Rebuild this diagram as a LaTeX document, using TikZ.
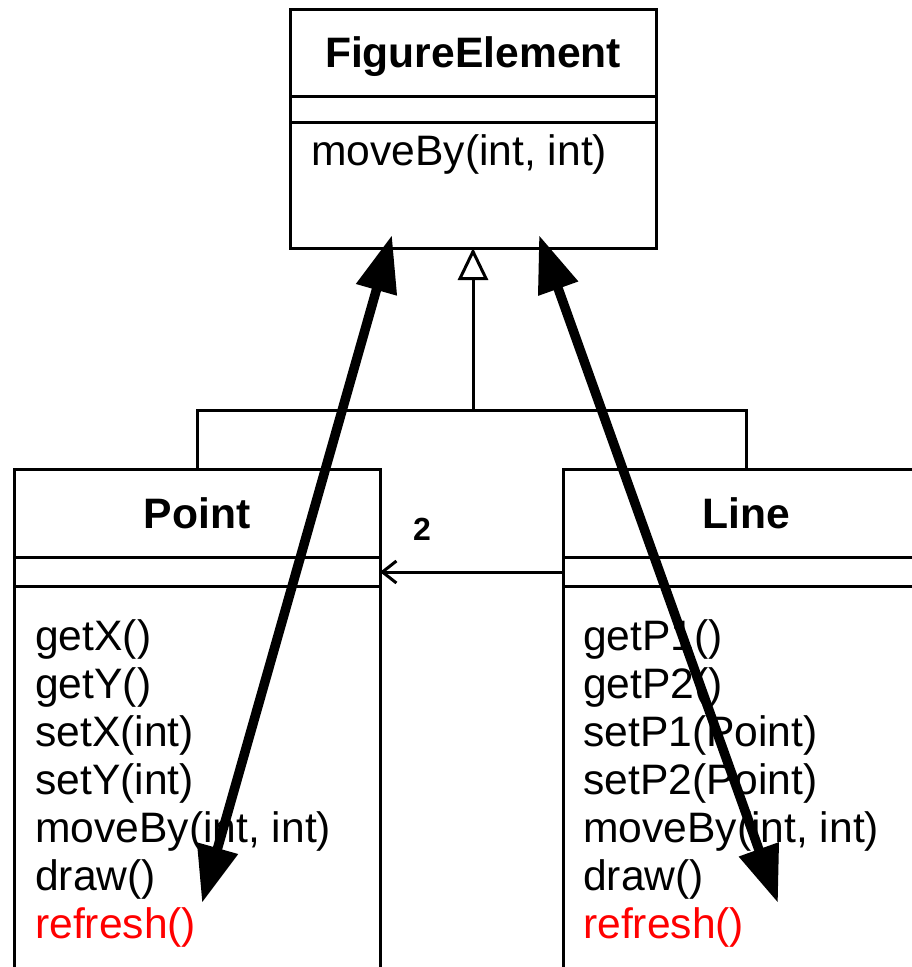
\documentclass[tikz,border=0pt]{standalone}
\usepackage{fontspec}
\setmainfont{Liberation Sans}
\usetikzlibrary{arrows.meta}
\begin{document}
\begin{tikzpicture}[x=1pt,y=-1pt,
  boxline/.style={line width=3pt},
  ttl/.style={font=\fontsize{42.6}{48}\selectfont\bfseries, anchor=base, inner sep=0pt},
  mth/.style={font=\fontsize{42.6}{48}\selectfont, anchor=base west, inner sep=0pt},
  frame/.style={draw=none, inner sep=0pt, outer sep=0pt, anchor=north west},
  big/.style={line width=9.5pt, {Triangle[length=57pt,width=40pt]}-{Triangle[length=57pt,width=40pt]}},
  red/.style={text={rgb,255:red,255;green,0;blue,0}}
]
\useasboundingbox (0,0) rectangle (912,967);
% FigureElement
\node[frame, draw, boxline, minimum width=366pt, minimum height=239pt] (fe) at (290,9) {};
\draw[boxline] ([yshift=-87pt]fe.north west) -- ([yshift=-87pt]fe.north east);
\draw[boxline] ([yshift=-113pt]fe.north west) -- ([yshift=-113pt]fe.north east);
\node[ttl] (fet) at (473,67) {FigureElement};
\node[mth] (fem) at (311,165) {moveBy(int, int)};
% Point
\node[frame, minimum width=366pt, minimum height=498pt] (point) at (14,469) {};
\draw[boxline] (point.south west) |- (point.north east) -- (point.south east);
\draw[boxline] ([yshift=-88pt]point.north west) -- ([yshift=-88pt]point.north east);
\draw[boxline] ([yshift=-117pt]point.north west) -- ([yshift=-117pt]point.north east);
\node[ttl] (pt) at (197,528) {Point};
\node[mth] (p1) at (35,650) {getX()};
\node[mth] (p2) at (35,698) {getY()};
\node[mth] (p3) at (35,746) {setX(int)};
\node[mth] (p4) at (35,794) {setY(int)};
\node[mth] (p5) at (35,842) {moveBy(int, int)};
\node[mth] (p6) at (35,890) {draw()};
\node[mth, red] (p7) at (35,938) {refresh()};
% Line
\node[frame, minimum width=349pt, minimum height=498pt] (line) at (563,469) {};
\draw[boxline] (line.south west) |- (line.north east);
\draw[boxline] ([yshift=-88pt]line.north west) -- ([yshift=-88pt]line.north east);
\draw[boxline] ([yshift=-117pt]line.north west) -- ([yshift=-117pt]line.north east);
\node[ttl] (lt) at (746,528) {Line};
\node[mth] (l1) at (583,650) {getP1()};
\node[mth] (l2) at (583,698) {getP2()};
\node[mth] (l3) at (583,746) {setP1(Point)};
\node[mth] (l4) at (583,794) {setP2(Point)};
\node[mth] (l5) at (583,842) {moveBy(int, int)};
\node[mth] (l6) at (583,890) {draw()};
\node[mth, red] (l7) at (583,938) {refresh()};
% inheritance
\coordinate (bar) at (473,410);
\coordinate (lineTop) at ([xshift=183pt]line.north west);
\draw[boxline] (point.north) |- (bar) -| (lineTop);
\draw[boxline, -{Triangle[open, length=32pt, width=30pt]}] (bar) -- (fe.south);
% association
\draw[boxline, -{Straight Barb[length=14pt, width=22pt]}] ([yshift=-103pt]line.north west) -- ([yshift=-103pt]point.north east);
\node[font=\fontsize{32}{36}\selectfont\bfseries, anchor=base, inner sep=0pt] (mult) at (422,540) {2};
% big arrows
\coordinate (pl) at (202,903);
\coordinate (fl) at (392,235);
\coordinate (fr) at (539,235);
\coordinate (lr) at (778,903);
\draw[big] (pl) -- (fl);
\draw[big] (fr) -- (lr);
\end{tikzpicture}
\end{document}
